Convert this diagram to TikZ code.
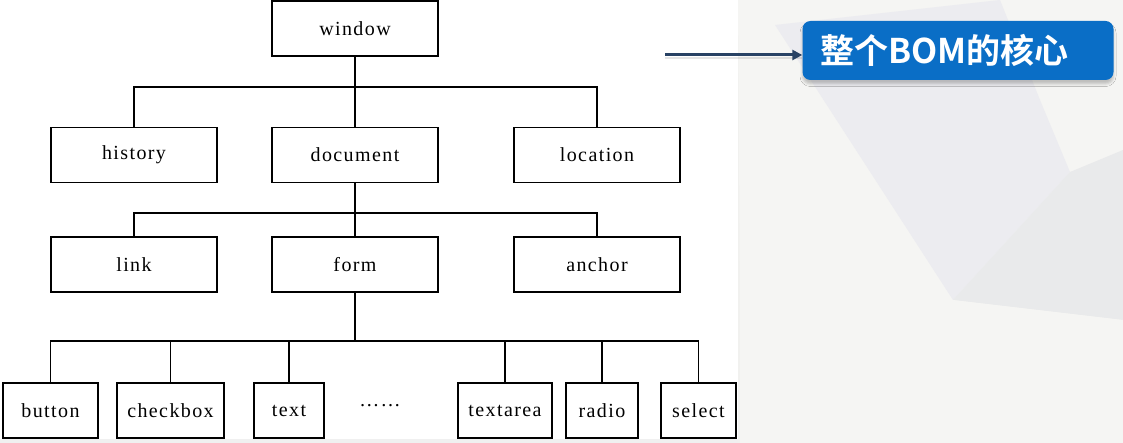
\documentclass[tikz,border=0pt]{standalone}
\usepackage{fontspec}
\newfontfamily\labelfont[LetterSpace=7]{Liberation Serif}
\newfontfamily\cjk{Noto Sans CJK SC}[BoldFont=* Bold]
\usetikzlibrary{arrows.meta,shadows.blur}
\definecolor{calloutblue}{RGB}{10,110,198}
\definecolor{arrownavy}{RGB}{40,66,100}
\definecolor{bggray}{RGB}{241,241,239}
\definecolor{bglav}{RGB}{236,236,240}
\definecolor{bgdark}{RGB}{233,234,235}
\definecolor{bglight}{RGB}{245,245,243}
\tikzset{
  treebox/.style={draw=black, line width=1.3pt, inner sep=0pt, minimum height=55pt,
    font=\labelfont\fontsize{20}{22}\selectfont, fill=white},
  link/.style={draw=black, line width=1.3pt},
  callout/.style={fill=calloutblue, rounded corners=8pt, text=white,
    font=\cjk\bfseries\fontsize{34}{37}\selectfont, inner xsep=18pt, text width=275pt,
    align=left, minimum height=59pt,
    blur shadow={shadow xshift=0pt, shadow yshift=-4pt, shadow opacity=22, shadow blur radius=2.5pt}},
  pointer/.style={draw=arrownavy, line width=3pt, -{Triangle[length=10pt,width=10pt]}}
}
\begin{document}
\begin{tikzpicture}[x=1pt,y=-1pt]
\useasboundingbox (0,0) rectangle (1123,443);
\fill[white] (0,0) rectangle (1123,443);
% background on the right
\fill[bggray] (738,0) rectangle (1123,443);
\fill[bglight] (738,0) -- (1123,0) -- (1123,150) -- (953,300) -- (740,300) -- cycle;
\fill[bglav] (775,25) -- (1000,0) -- (1040,100) -- (1070,172) -- (953,300) -- cycle;
\fill[bgdark] (1070,172) -- (1123,150) -- (1123,320) -- (953,300) -- cycle;
\fill[bglight] (740,300) -- (953,300) -- (1123,320) -- (1123,443) -- (740,443) -- cycle;
\fill[gray!12] (0,439) rectangle (738,443);

% tree nodes
\node[treebox, minimum width=166pt] (window)   at (355,28.5) {window};
\node[treebox, minimum width=166pt] (history)  at (134,155) {history};
\node[treebox, minimum width=166pt] (document) at (355,155) {document};
\node[treebox, minimum width=166pt] (location) at (597,155) {location};
\node[treebox, minimum width=166pt] (link)     at (134,264.5) {link};
\node[treebox, minimum width=166pt] (form)     at (355,264.5) {form};
\node[treebox, minimum width=166pt] (anchor)   at (597,264.5) {anchor};
\node[treebox, minimum width=95pt]  (button)   at (50.5,410.5) {button};
\node[treebox, minimum width=107pt] (checkbox) at (170.5,410.5) {checkbox};
\node[treebox, minimum width=70pt]  (text)     at (289,410.5) {text};
\node[font=\labelfont\fontsize{20}{22}\selectfont] (dots) at (380,406) {……};
\node[treebox, minimum width=94pt]  (textarea) at (505,410.5) {textarea};
\node[treebox, minimum width=72pt]  (radio)    at (602,410.5) {radio};
\node[treebox, minimum width=75pt]  (select)   at (698.5,410.5) {select};

% connectors
\coordinate (b1) at (355,87);
\coordinate (b2) at (355,213);
\coordinate (b3) at (355,341);
\draw[link] (window.south) -- (b1);
\draw[link] (history.north) |- (b1) -| (location.north);
\draw[link] (b1) -- (document.north);
\draw[link] (document.south) -- (b2);
\draw[link] (link.north) |- (b2) -| (anchor.north);
\draw[link] (b2) -- (form.north);
\draw[link] (form.south) -- (b3);
\draw[link] (button.north) |- (b3) -| (select.north);
\draw[link] (checkbox.north) -- (checkbox.north |- b3);
\draw[link] (text.north) -- (text.north |- b3);
\draw[link] (textarea.north) -- (textarea.north |- b3);
\draw[link] (radio.north) -- (radio.north |- b3);

% callout
\node[callout] (core) at (958,50.5) {整个BOM的核心};
\coordinate (tail) at (665,55);
\draw[line width=2.5pt, draw=black, opacity=0.10] ([yshift=-3pt]tail) -- ([yshift=-3pt]core.west |- tail);
\draw[pointer] (tail) -- (core.west |- tail);
\end{tikzpicture}
\end{document}
